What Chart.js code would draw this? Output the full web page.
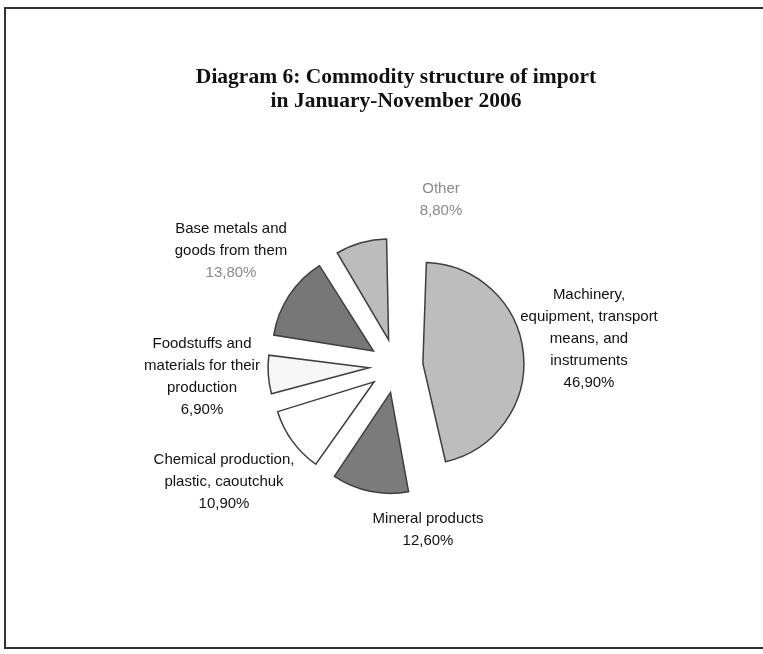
<!DOCTYPE html>
<html>
<head>
<meta charset="utf-8">
<script src="https://cdn.jsdelivr.net/npm/chart.js@4"></script>
<style>
  html, body { margin: 0; padding: 0; background: #fff; overflow: hidden; }
  #wrap { position: relative; width: 763px; height: 654px; }
  #frame {
    position: absolute; left: 4px; top: 7px; width: 820px; height: 642px;
    border: 2px solid #333; box-sizing: border-box;
  }
  canvas { position: absolute; left: 0; top: 0; }
</style>
</head>
<body>
<div id="wrap">
  <div id="frame"></div>
  <canvas id="importChart" width="763" height="654"></canvas>
</div>
<script>
// data, clockwise from 12 o'clock
const categories = [
  ["Machinery,", "equipment, transport", "means, and", "instruments"],
  ["Mineral products"],
  ["Chemical production,", "plastic, caoutchuk"],
  ["Foodstuffs and", "materials for their", "production"],
  ["Base metals and", "goods from them"],
  ["Other"]
];
const shares = [46.9, 12.6, 10.9, 6.9, 13.8, 8.8];
const sliceColors = ["#bdbdbd", "#7b7b7b", "#ffffff", "#f6f6f6", "#777777", "#bcbcbc"];

// where each label block sits, relative to the pie centre
const labelOffsets = [[193, -27], [32, 164], [-172, 116], [-194, 11], [-165, -115], [45, -166]];
const nameColors = ["#111", "#111", "#111", "#111", "#111", "#8a8a8a"];
const pctColors = ["#111", "#111", "#111", "#111", "#8a8a8a", "#8a8a8a"];

const PIE_RADIUS = 101;
const EXPLODE = 27;

const fmtPct = v => v.toFixed(2).replace(".", ",") + "%";

// Chart.js v4 also grows the radius of offset arcs; undo that so every slice keeps the same radius
const evenRadius = {
  id: "evenRadius",
  afterDatasetUpdate(chart, args) {
    const meta = chart.getDatasetMeta(args.index);
    meta.data.forEach(arc => {
      const circ = arc.endAngle - arc.startAngle;
      const fix = 1 - Math.sin(Math.min(Math.PI, circ));
      arc.outerRadius = PIE_RADIUS - EXPLODE * fix;
    });
  }
};

const sliceLabels = {
  id: "sliceLabels",
  afterDatasetsDraw(chart) {
    const ctx = chart.ctx;
    const meta = chart.getDatasetMeta(0);
    const lineH = 22;
    ctx.save();
    ctx.font = "15px 'Liberation Sans', Arial, sans-serif";
    ctx.textAlign = "center";
    ctx.textBaseline = "middle";
    meta.data.forEach((arc, i) => {
      const lines = categories[i].concat([fmtPct(shares[i])]);
      const cx = arc.x + labelOffsets[i][0];
      const cy = arc.y + labelOffsets[i][1];
      let y = cy - (lines.length - 1) * lineH / 2;
      lines.forEach((t, j) => {
        ctx.fillStyle = j === lines.length - 1 ? pctColors[i] : nameColors[i];
        ctx.fillText(t, cx, y);
        y += lineH;
      });
    });
    ctx.restore();
  }
};

new Chart(document.getElementById("importChart"), {
  type: "pie",
  data: {
    labels: categories,
    datasets: [{
      data: shares,
      backgroundColor: sliceColors,
      borderColor: "#3f3f3f",
      borderWidth: 1.5,
      borderJoinStyle: "miter",
      offset: EXPLODE * 4
    }]
  },
  options: {
    responsive: false,
    animation: false,
    events: [],
    radius: PIE_RADIUS,
    layout: { padding: { left: 40, right: 11, top: 0, bottom: 38.5 } },
    plugins: {
      legend: { display: false },
      tooltip: { enabled: false },
      title: {
        display: true,
        text: ["Diagram 6: Commodity structure of import", "in January-November 2006"],
        color: "#111",
        font: { family: "'Liberation Serif', 'Times New Roman', serif", size: 21.5, weight: "bold", lineHeight: 1.16 },
        padding: { top: 64.5, bottom: 2 }
      }
    }
  },
  plugins: [evenRadius, sliceLabels]
});
</script>
</body>
</html>
